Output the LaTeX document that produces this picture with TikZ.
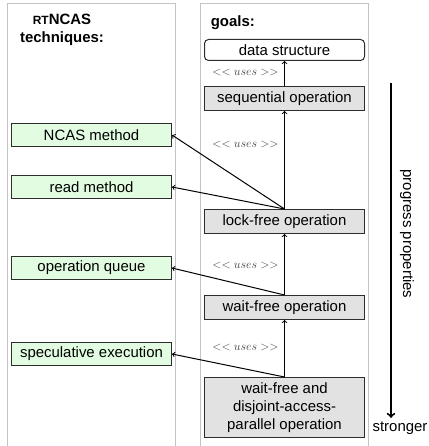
\documentclass[tikz,border=0pt]{standalone}
\usepackage{fontspec}
\setmainfont{Liberation Sans}
\definecolor{box_gray}{RGB}{226,226,226}
\definecolor{box_green}{RGB}{226,252,226}
\definecolor{edge_dark}{RGB}{45,45,45}
\definecolor{frame_gray}{RGB}{195,195,195}
\definecolor{uses_gray}{RGB}{60,60,60}

\begin{document}
\begin{tikzpicture}[->,line width=1bp,x=1bp,y=-1bp]
    \tikzstyle{txt}=[font=\fontsize{15}{18}\selectfont]
    \tikzstyle{goal}=[style=txt,draw=edge_dark,fill=box_gray,minimum width=160bp,minimum height=24bp,inner sep=2pt]
    \tikzstyle{tech}=[style=goal,fill=box_green,minimum height=23bp]
    \tikzstyle{uses}=[text=uses_gray,font=\fontsize{12}{14}\selectfont]
    \tikzstyle{head}=[style=txt,font=\fontsize{15}{18}\selectfont\bfseries,align=center]

    \useasboundingbox (0,0) rectangle (428,446);

    % the two panels
    \draw[-,frame_gray] (7.5,446) |- (175.5,3.5) -- (175.5,446);
    \draw[-,frame_gray] (200.5,446) |- (368.5,3.5) -- (368.5,446);

    \node[head] (techs) at (62,30) {{\fontsize{12}{14}\selectfont RT}NCAS\\techniques:};
    \node[head,anchor=west] (goals) at (207,23) {goals:};

    % goals
    \node[goal,fill=white,rounded corners=4bp,minimum height=21bp] (ds) at (284.5,50) {data structure};
    \node[goal] (seq) at (284.5,98.5)  {sequential operation};
    \node[goal] (lf)  at (284.5,221.5) {lock-free operation};
    \node[goal] (wf)  at (284.5,307.5) {wait-free operation};
    \node[goal,minimum height=60bp,align=center] (dap) at (284.5,407.5)
        {wait-free and\\disjoint-access-\\parallel operation};

    % techniques
    \node[tech] (ncas) at (91.5,135) {NCAS method};
    \node[tech] (rd)   at (91.5,187) {read method};
    \node[tech] (oq)   at (91.5,268) {operation queue};
    \node[tech] (spec) at (91.5,354) {speculative execution};

    \node[uses] (u1) at (245.5,73)  {$<<uses>>$};
    \node[uses] (u2) at (245.5,145) {$<<uses>>$};
    \node[uses] (u3) at (245.5,266) {$<<uses>>$};
    \node[uses] (u4) at (245.5,348) {$<<uses>>$};

    \path
     (seq.north) edge (ds.south)
     (lf.north)  edge (seq.south)
     (wf.north)  edge (lf.south)
     (dap.north) edge (wf.south)
     (lf.north)  edge (ncas.east)
     (lf.north)  edge (rd.east)
     (wf.north)  edge (oq.east)
     (dap.north) edge (spec.east)
     ;

    % progress
    \node[txt] (strong) at (400,428) {stronger};
    \node[txt,rotate=-90] (prog) at (407,234) {progress properties};
    \coordinate (ptop) at (391,83);
    \draw[line width=2bp] (ptop) -- (ptop |- strong.north);
\end{tikzpicture}
\end{document}
